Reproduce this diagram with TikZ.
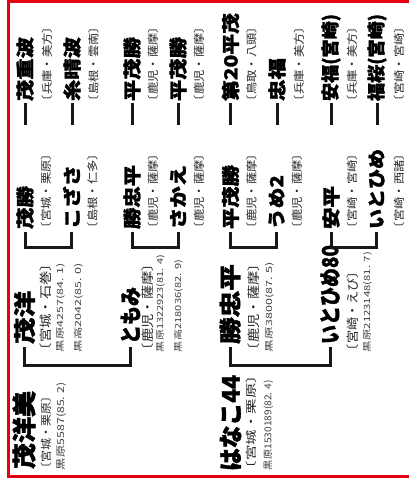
\documentclass[tikz,border=0pt]{standalone}
\usepackage{fontspec}
\usepackage{graphicx}
\newfontfamily\jp{Noto Sans CJK JP}
\newfontfamily\jph{Noto Sans CJK JP}[BoldFeatures={FakeBold=1.6}]
\newcommand\fitw[2]{\resizebox{#1pt}{\height}{#2}}
\definecolor{frame}{RGB}{230,0,18}
\begin{document}
\begin{tikzpicture}[x=1pt,y=-1pt,
  tx/.style={rotate=90,anchor=west,inner sep=0pt,outer sep=0pt},
  nA/.style={tx,font=\jph\bfseries\fontsize{18}{18}\selectfont},
  nB/.style={tx,font=\jph\bfseries\fontsize{22}{22}\selectfont},
  nC/.style={tx,font=\jph\bfseries\fontsize{24}{24}\selectfont},
  sA/.style={tx,font=\jp\fontsize{11}{11}\selectfont,text=black!85},
  sB/.style={tx,font=\jp\fontsize{12.5}{12.5}\selectfont,text=black!85},
  kA/.style={tx,font=\jp\fontsize{8.5}{8.5}\selectfont,text=black!75},
  kB/.style={tx,font=\jp\fontsize{9.5}{9.5}\selectfont,text=black!75},
  br/.style={line width=3pt,black!90,line join=miter,line cap=butt}]
\useasboundingbox (0,0) rectangle (409,479);
\fill[white] (0,0) rectangle (409,479);
% generation 4
\node[nA] (d1) at (25,101) {\fitw{64}{茂重波}};
\node[nA] (d2) at (72,101) {\fitw{64}{糸晴波}};
\node[nA] (d3) at (132,101) {\fitw{64}{平茂勝}};
\node[nA] (d4) at (178,101) {\fitw{64}{平茂勝}};
\node[nA] (d5) at (230.5,101) {\fitw{88}{第20平茂}};
\node[nA] (d6) at (277,101) {\fitw{43}{忠福}};
\node[nA] (d7) at (331,101) {\fitw{87}{安福(宮崎)}};
\node[nA] (d8) at (377,101) {\fitw{87}{福桜(宮崎)}};
\node[sA] (ds1) at (47,107) {\fitw{86}{〔兵庫・美方〕}};
\node[sA] (ds2) at (93.5,107) {\fitw{86}{〔島根・雲南〕}};
\node[sA] (ds3) at (153,107) {\fitw{86}{〔鹿児・薩摩〕}};
\node[sA] (ds4) at (199,107) {\fitw{86}{〔鹿児・薩摩〕}};
\node[sA] (ds5) at (251.5,107) {\fitw{86}{〔鳥取・八頭〕}};
\node[sA] (ds6) at (299,107) {\fitw{86}{〔兵庫・美方〕}};
\node[sA] (ds7) at (352,107) {\fitw{86}{〔兵庫・美方〕}};
\node[sA] (ds8) at (399,107) {\fitw{86}{〔宮崎・宮崎〕}};
% generation 3
\node[nA] (e1) at (25,229) {\fitw{43}{茂勝}};
\node[nA] (e2) at (71.5,229) {\fitw{64}{こざさ}};
\node[nA] (e3) at (132,229) {\fitw{64}{勝忠平}};
\node[nA] (e4) at (178,229) {\fitw{64}{さかえ}};
\node[nA] (e5) at (230.5,229) {\fitw{64}{平茂勝}};
\node[nA] (e6) at (276.5,229) {\fitw{54}{うめ2}};
\node[nA] (e7) at (331,229) {\fitw{43}{安平}};
\node[nA] (e8) at (376.5,229) {\fitw{80}{いとひめ}};
\node[sA] (es1) at (46,234) {\fitw{86}{〔宮城・栗原〕}};
\node[sA] (es2) at (92.5,234) {\fitw{86}{〔島根・仁多〕}};
\node[sA] (es3) at (153,234) {\fitw{86}{〔鹿児・薩摩〕}};
\node[sA] (es4) at (199,234) {\fitw{86}{〔鹿児・薩摩〕}};
\node[sA] (es5) at (251.5,234) {\fitw{86}{〔鹿児・薩摩〕}};
\node[sA] (es6) at (297,234) {\fitw{86}{〔鹿児・薩摩〕}};
\node[sA] (es7) at (352,234) {\fitw{86}{〔宮崎・宮崎〕}};
\node[sA] (es8) at (399,234) {\fitw{86}{〔宮崎・西諸〕}};
% generation 2
\node[nB] (f1) at (24.5,344) {\fitw{53}{茂洋}};
\node[sB] (fs1) at (46,357) {\fitw{100}{〔宮城・石巻〕}};
\node[kA] (fk1) at (60.5,352) {\fitw{89}{黒原4257(84. 1)}};
\node[kA] (fl1) at (78.5,352) {\fitw{89}{黒高2042(85. 0)}};
\node[nB] (f2) at (130.5,344) {\fitw{57}{ともみ}};
\node[sB] (fs2) at (147.5,357) {\fitw{100}{〔鹿児・薩摩〕}};
\node[kA] (fk2) at (160.5,352) {\fitw{97}{黒原1322923(81. 4)}};
\node[kA] (fl2) at (178.5,352) {\fitw{92}{黒高218036(82. 9)}};
\node[nB] (f3) at (230,344) {\fitw{80}{勝忠平}};
\node[sB] (fs3) at (254,357) {\fitw{100}{〔鹿児・薩摩〕}};
\node[kA] (fk3) at (270,352) {\fitw{90}{黒原3800(87. 5)}};
\node[nB] (f4) at (330,344) {\fitw{99}{いとひめ80}};
\node[sB] (fs4) at (352.5,357) {\fitw{92}{〔宮崎・えび〕}};
\node[kA] (fk4) at (367.5,352) {\fitw{100}{黒原2123148(81. 7)}};
% generation 1
\node[nC] (g1) at (24,469) {\fitw{78}{茂洋美}};
\node[sA] (gs1) at (46,474) {\fitw{84}{〔宮城・栗原〕}};
\node[kB] (gk1) at (62,470) {\fitw{88}{黒原5587(85. 2)}};
\node[nC] (g2) at (230.5,471) {\fitw{96}{はなこ44}};
\node[sA] (gs2) at (251.5,476) {\fitw{108}{〔宮城・栗原〕}};
\node[kB] (gk2) at (268.5,470) {\fitw{90}{黒原1530189(82. 4)}};
% brackets gen1 -> gen2
\draw[br] ([yshift=-3pt]f1.west) -- ([yshift=-21pt]f1.west) -| ([yshift=-3pt]f2.west);
\draw[br] ([yshift=-3pt]f3.west) -- ([yshift=-21pt]f3.west) -| ([yshift=-3pt]f4.west);
% brackets gen2 -> gen3
\draw[br] ([yshift=-3pt]e1.west) -- ([yshift=-18pt]e1.west) -| ([yshift=-3pt]e2.west);
\draw[br] ([yshift=-3pt]e3.west) -- ([yshift=-18pt]e3.west) -| ([yshift=-3pt]e4.west);
\draw[br] ([yshift=-3pt]e5.west) -- ([yshift=-18pt]e5.west) -| ([yshift=-3pt]e6.west);
\draw[br] ([yshift=-3pt]e7.west) -- ([yshift=-18pt]e7.west) -| ([yshift=-3pt]e8.west);
% dashes gen3 -> gen4
\foreach \n in {d1,d2,d3,d4,d5,d6,d7,d8}
  \draw[br] ([yshift=-2pt]\n.west) -- ([yshift=-24pt]\n.west);
% frame
\draw[frame,line width=3pt] (8.5,1.5) rectangle (410.5,476.5);
\end{tikzpicture}
\end{document}
